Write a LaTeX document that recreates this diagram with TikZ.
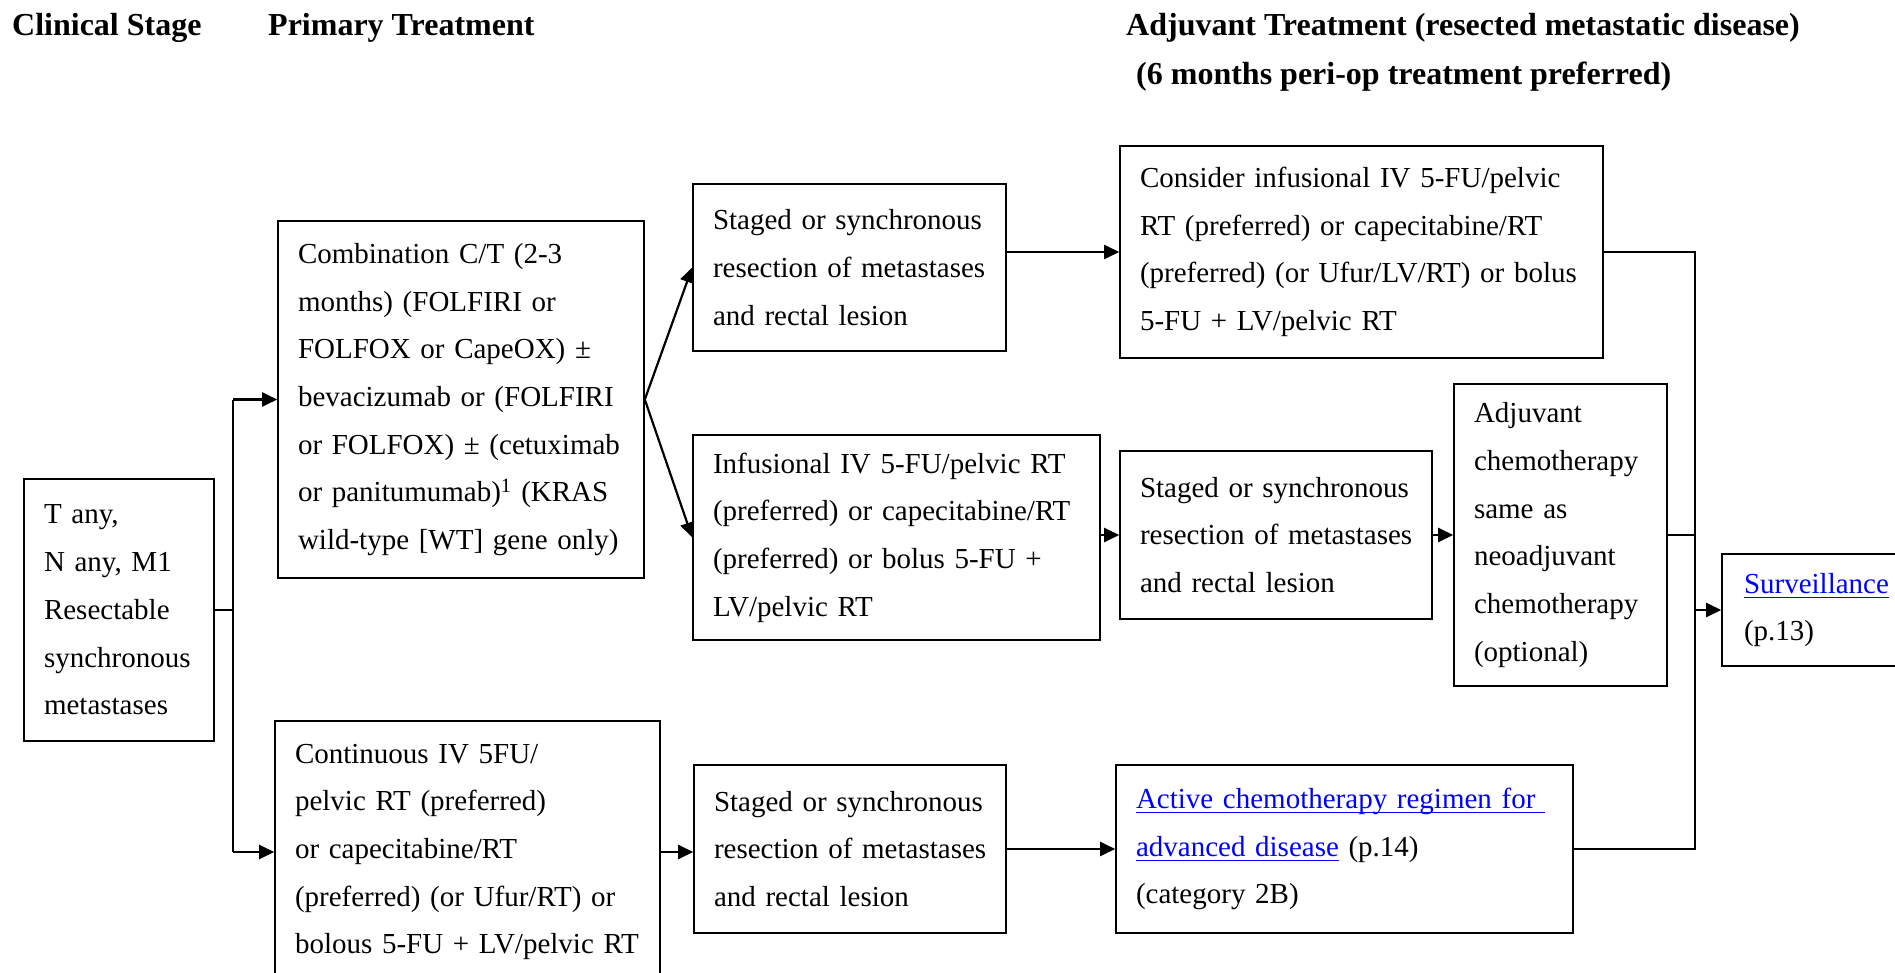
\documentclass[tikz,border=0pt]{standalone}
\usepackage{fontspec}
\setmainfont{Liberation Serif}
\usetikzlibrary{arrows.meta}
\definecolor{linkblue}{RGB}{0,0,255}
% blue underlined cross-reference text (rule at a fixed depth below the baseline)
\newsavebox\lnkbox
\newcommand\lnk[1]{\textcolor{linkblue}{\sbox\lnkbox{#1}\dp\lnkbox=3.5pt
  \vtop{\copy\lnkbox\hrule height 1.6pt}}}

\tikzset{
  box/.style={draw, line width=1.6pt, inner xsep=20pt, inner ysep=0pt,
    font=\fontsize{29}{47.7}\selectfont,
    execute at begin node={\rightskip=0pt plus 1fil minus 40pt
      \hyphenpenalty=10000 \exhyphenpenalty=10000}},
  head/.style={anchor=base west, inner sep=0pt,
    font=\fontsize{32}{40}\selectfont\bfseries},
  link/.style={line width=1.6pt},
  arrow/.style={line width=2.2pt, -{Triangle[length=15pt,width=14pt]}}
}

\begin{document}
\begin{tikzpicture}[x=1pt, y=-1pt]
\useasboundingbox (0,0) rectangle (1895,973);

% column headings
\node[head] (hstage) at (12,36) {Clinical Stage};
\node[head] (hprim)  at (268,36) {Primary Treatment};
\node[head] (hadj)   at (1126,36) {Adjuvant Treatment (resected metastatic disease)};
\node[head] (hadj2)  at (1136,85) {(6 months peri-op treatment preferred)};

% clinical stage
\node[box, text width=150pt, minimum height=262pt] (stage) at (119,610)
  {T any,\\N any, M1\\Resectable\\synchronous\\metastases};

% primary treatment
\node[box, text width=326pt, minimum height=357pt] (combo) at (461,399.5)
  {Combination C/T (2-3\\months) (FOLFIRI or\\FOLFOX or CapeOX) ±\\bevacizumab or (FOLFIRI\\or FOLFOX) ± (cetuximab\\or panitumumab)\textsuperscript{1} (KRAS\\wild-type [WT] gene only)};
\node[box, text width=345pt, minimum height=262pt] (cont) at (467.5,852)
  {Continuous IV 5FU/\\pelvic RT (preferred)\\or capecitabine/RT\\(preferred) (or Ufur/RT) or\\bolous 5-FU + LV/pelvic RT};

% second column
\node[box, text width=273pt, minimum height=167pt] (st1) at (849.5,267.5)
  {Staged or synchronous\\resection of metastases\\and rectal lesion};
\node[box, text width=367pt, minimum height=205pt] (inf) at (896.5,537.5)
  {Infusional IV 5-FU/pelvic RT\\(preferred) or capecitabine/RT\\(preferred) or bolus 5-FU +\\LV/pelvic RT};
\node[box, text width=272pt, minimum height=168pt] (st3) at (850,849)
  {Staged or synchronous\\resection of metastases\\and rectal lesion};

% adjuvant treatment
\node[box, text width=443pt, minimum height=212pt] (cons) at (1361.5,252)
  {Consider infusional IV 5-FU/pelvic\\RT (preferred) or capecitabine/RT\\(preferred) (or Ufur/LV/RT) or bolus\\5-FU + LV/pelvic RT};
\node[box, text width=272pt, minimum height=168pt] (st2) at (1276,535)
  {Staged or synchronous\\resection of metastases\\and rectal lesion};
\node[box, text width=173pt, minimum height=302pt] (adj) at (1560.5,535)
  {Adjuvant\\chemotherapy\\same as\\neoadjuvant\\chemotherapy\\(optional)};
\node[box, text width=417pt, minimum height=168pt] (act) at (1344.5,849)
  {\lnk{Active chemotherapy regimen for~}\\\lnk{advanced disease} (p.14)\\(category 2B)};

% follow-up
\node[box, inner xsep=22pt, text width=216pt, minimum height=112pt] (surv) at (1852,610)
  {\lnk{Surveillance}\\(p.13)};

% connectors
\coordinate (split) at (233,610);
\coordinate (col) at (1695,535);

\draw[link] (stage.east) -- (split);
\draw[link] (split |- combo.west) -- (split |- cont.west);
\draw[arrow] (split |- combo.west) -- (combo.west);
\draw[arrow] (split |- cont.west) -- (cont.west);

\draw[arrow] (combo.east) -- (st1.west);
\draw[arrow] (combo.east) -- (inf.west);
\draw[arrow] (cont.east) -- (cont.east -| st3.west);

\draw[arrow] (st1.east |- cons.west) -- (cons.west);
\draw[arrow] (inf.east |- st2.west) -- (st2.west);
\draw[arrow] (st2.east) -- (adj.west);
\draw[arrow] (st3.east) -- (act.west);

\draw[link] (cons.east) -- (col |- cons.east) -- (col |- act.east) -- (act.east);
\draw[link] (adj.east) -- (col |- adj.east);
\draw[arrow] (col |- surv.west) -- (surv.west);
\end{tikzpicture}
\end{document}
